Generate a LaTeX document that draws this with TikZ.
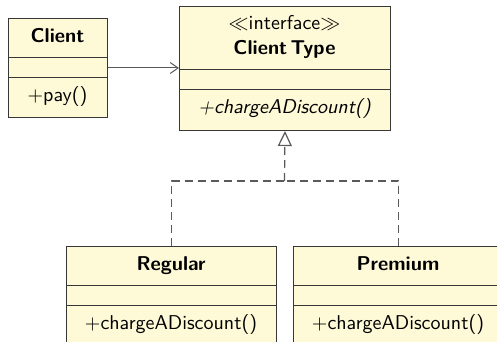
\documentclass[tikz,border=0pt]{standalone}
\usepackage{tikz}
\usetikzlibrary{arrows.meta, positioning}
\definecolor{ClassFill}{RGB}{254,249,214}
\definecolor{ClassLine}{RGB}{55,55,55}
\definecolor{LinkGray}{RGB}{90,90,90}

\begin{document}
\begin{tikzpicture}[x=0.5pt, y=-0.5pt, font=\sffamily,
    classbox/.style={rectangle, draw=ClassLine, fill=ClassFill, line width=0.5pt, anchor=north west, inner sep=0pt},
    sepline/.style={draw=ClassLine, line width=0.5pt},
    title/.style={font=\sffamily\bfseries, inner sep=0pt, anchor=base},
    member/.style={inner sep=0pt, anchor=base},
    assoc/.style={draw=LinkGray, line width=0.5pt, -{Straight Barb[length=4pt, width=5.5pt]}},
    realize/.style={draw=LinkGray, line width=0.6pt, dash pattern=on 4pt off 2.5pt}
]
\clip (0,0) rectangle (497,342);

% client class
\node[classbox, minimum width=49.5pt, minimum height=49.5pt] (client) at (8,18) {};
\draw[sepline] ([yshift=-20pt]client.north west) -- ([yshift=-20pt]client.north east);
\draw[sepline] ([yshift=-30pt]client.north west) -- ([yshift=-30pt]client.north east);
\node[title] (clientname) at (57.5,43) {Client};
\node[member] (clientpay) at (57.5,102) {+pay()};

% the interface
\node[classbox, minimum width=105.5pt, minimum height=62pt] (clienttype) at (179,6) {};
\draw[sepline] ([yshift=-32pt]clienttype.north west) -- ([yshift=-32pt]clienttype.north east);
\draw[sepline] ([yshift=-42pt]clienttype.north west) -- ([yshift=-42pt]clienttype.north east);
\node[member] (stereo) at (284.5,30) {$\ll$interface$\gg$};
\node[title] (typename) at (284.5,55) {Client\,Type};
\node[member] (typecharge) at (284.5,113) {\itshape +chargeADiscount()};

% implementations
\node[classbox, minimum width=105pt, minimum height=57pt] (regular) at (66,246) {};
\draw[sepline] ([yshift=-19.5pt]regular.north west) -- ([yshift=-19.5pt]regular.north east);
\draw[sepline] ([yshift=-29.5pt]regular.north west) -- ([yshift=-29.5pt]regular.north east);
\node[title] (regularname) at (171,270) {Regular};
\node[member] (regularcharge) at (171,329) {+chargeADiscount()};

\node[classbox, minimum width=105pt, minimum height=57pt] (premium) at (293,246) {};
\draw[sepline] ([yshift=-19.5pt]premium.north west) -- ([yshift=-19.5pt]premium.north east);
\draw[sepline] ([yshift=-29.5pt]premium.north west) -- ([yshift=-29.5pt]premium.north east);
\node[title] (premiumname) at (398,270) {Premium};
\node[member] (premiumcharge) at (398,329) {+chargeADiscount()};

% links
\draw[assoc] (client.east) -- (client.east -| clienttype.west);
\coordinate (join) at (284.5,181);
\draw[realize] (regular.north) |- (join);
\draw[realize] (premium.north) |- (join);
\draw[realize, -{Triangle[open, length=7.5pt, width=7pt]}] (join) -- (clienttype.south);
\end{tikzpicture}
\end{document}
